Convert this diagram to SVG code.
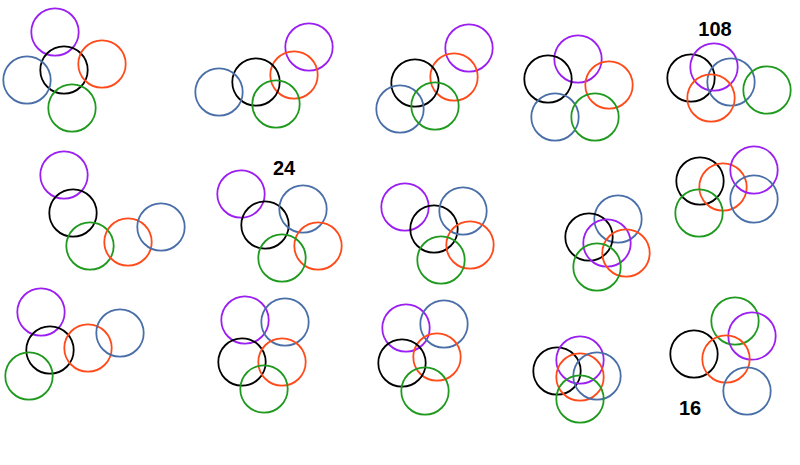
<svg xmlns="http://www.w3.org/2000/svg" width="800" height="465" viewBox="0 0 800 465">
<style>
circle{fill:none;stroke-width:1.8}
.p{stroke:#9b1ff0}
.o{stroke:#ff4a1a}
.b{stroke:#4a6fa8}
.g{stroke:#1f9a1f}
.k{stroke:#000}
text{font-family:"Liberation Sans",Arial,sans-serif;font-weight:bold;font-size:20px;fill:#000;text-anchor:middle}
</style>
<rect width="800" height="465" fill="#fff"/>
<g id="set1"><circle class="p" cx="55" cy="32" r="23.7"/><circle class="k" cx="64" cy="70" r="23.7"/><circle class="o" cx="102" cy="64" r="23.7"/><circle class="b" cx="27" cy="80" r="23.7"/><circle class="g" cx="72" cy="108" r="23.7"/></g>
<g id="set2"><circle class="p" cx="309" cy="47" r="23.7"/><circle class="o" cx="294" cy="75" r="23.7"/><circle class="k" cx="256" cy="82" r="23.7"/><circle class="b" cx="219" cy="92" r="23.7"/><circle class="g" cx="276" cy="104" r="23.7"/></g>
<g id="set3"><circle class="p" cx="469" cy="48" r="23.7"/><circle class="o" cx="454" cy="77" r="23.7"/><circle class="k" cx="415" cy="83" r="23.7"/><circle class="b" cx="400" cy="109" r="23.7"/><circle class="g" cx="435" cy="106" r="23.7"/></g>
<g id="set4"><circle class="p" cx="578" cy="59" r="23.7"/><circle class="k" cx="548" cy="79" r="23.7"/><circle class="o" cx="609" cy="85" r="23.7"/><circle class="b" cx="555" cy="117" r="23.7"/><circle class="g" cx="595" cy="117" r="23.7"/></g>
<g id="set5"><text x="715" y="36">108</text><circle class="k" cx="691" cy="78" r="23.7"/><circle class="p" cx="714" cy="67" r="23.7"/><circle class="b" cx="731" cy="82" r="23.7"/><circle class="o" cx="711" cy="98" r="23.7"/><circle class="g" cx="767" cy="90" r="23.7"/></g>
<g id="set6"><circle class="p" cx="64" cy="175" r="23.7"/><circle class="k" cx="73" cy="213" r="23.7"/><circle class="g" cx="90" cy="246" r="23.7"/><circle class="o" cx="128" cy="242" r="23.7"/><circle class="b" cx="161" cy="227" r="23.7"/></g>
<g id="set7"><text x="284" y="175">24</text><circle class="p" cx="241" cy="194" r="23.7"/><circle class="k" cx="265" cy="225" r="23.7"/><circle class="b" cx="303" cy="209" r="23.7"/><circle class="o" cx="318" cy="246" r="23.7"/><circle class="g" cx="282" cy="258" r="23.7"/></g>
<g id="set8"><circle class="p" cx="405" cy="207" r="23.7"/><circle class="k" cx="434" cy="229" r="23.7"/><circle class="b" cx="463" cy="211" r="23.7"/><circle class="o" cx="470" cy="245" r="23.7"/><circle class="g" cx="441" cy="260" r="23.7"/></g>
<g id="set9"><circle class="b" cx="618" cy="219" r="23.7"/><circle class="k" cx="589" cy="237" r="23.7"/><circle class="p" cx="607" cy="243" r="23.7"/><circle class="o" cx="626" cy="253" r="23.7"/><circle class="g" cx="597" cy="267" r="23.7"/></g>
<g id="set10"><circle class="k" cx="700" cy="181" r="23.7"/><circle class="o" cx="723" cy="187" r="23.7"/><circle class="p" cx="754" cy="170" r="23.7"/><circle class="b" cx="754" cy="199" r="23.7"/><circle class="g" cx="699" cy="213" r="23.7"/></g>
<g id="set11"><circle class="p" cx="41" cy="312" r="23.7"/><circle class="k" cx="50" cy="350" r="23.7"/><circle class="o" cx="88" cy="348" r="23.7"/><circle class="b" cx="120" cy="333" r="23.7"/><circle class="g" cx="29" cy="376" r="23.7"/></g>
<g id="set12"><circle class="p" cx="245" cy="320" r="23.7"/><circle class="b" cx="285" cy="322" r="23.7"/><circle class="k" cx="242" cy="362" r="23.7"/><circle class="o" cx="282" cy="362" r="23.7"/><circle class="g" cx="264" cy="389" r="23.7"/></g>
<g id="set13"><circle class="p" cx="406" cy="328" r="23.7"/><circle class="b" cx="444" cy="324" r="23.7"/><circle class="o" cx="437" cy="357" r="23.7"/><circle class="k" cx="402" cy="363" r="23.7"/><circle class="g" cx="425" cy="391" r="23.7"/></g>
<g id="set14"><circle class="k" cx="557" cy="371" r="23.7"/><circle class="p" cx="580" cy="360" r="23.7"/><circle class="o" cx="580" cy="377" r="23.7"/><circle class="b" cx="597" cy="376" r="23.7"/><circle class="g" cx="580" cy="399" r="23.7"/></g>
<g id="set15"><circle class="g" cx="735" cy="321" r="23.7"/><circle class="p" cx="752" cy="336" r="23.7"/><circle class="k" cx="694" cy="354" r="23.7"/><circle class="o" cx="726" cy="359" r="23.7"/><circle class="b" cx="747" cy="391" r="23.7"/><text x="690" y="415">16</text></g>
</svg>
